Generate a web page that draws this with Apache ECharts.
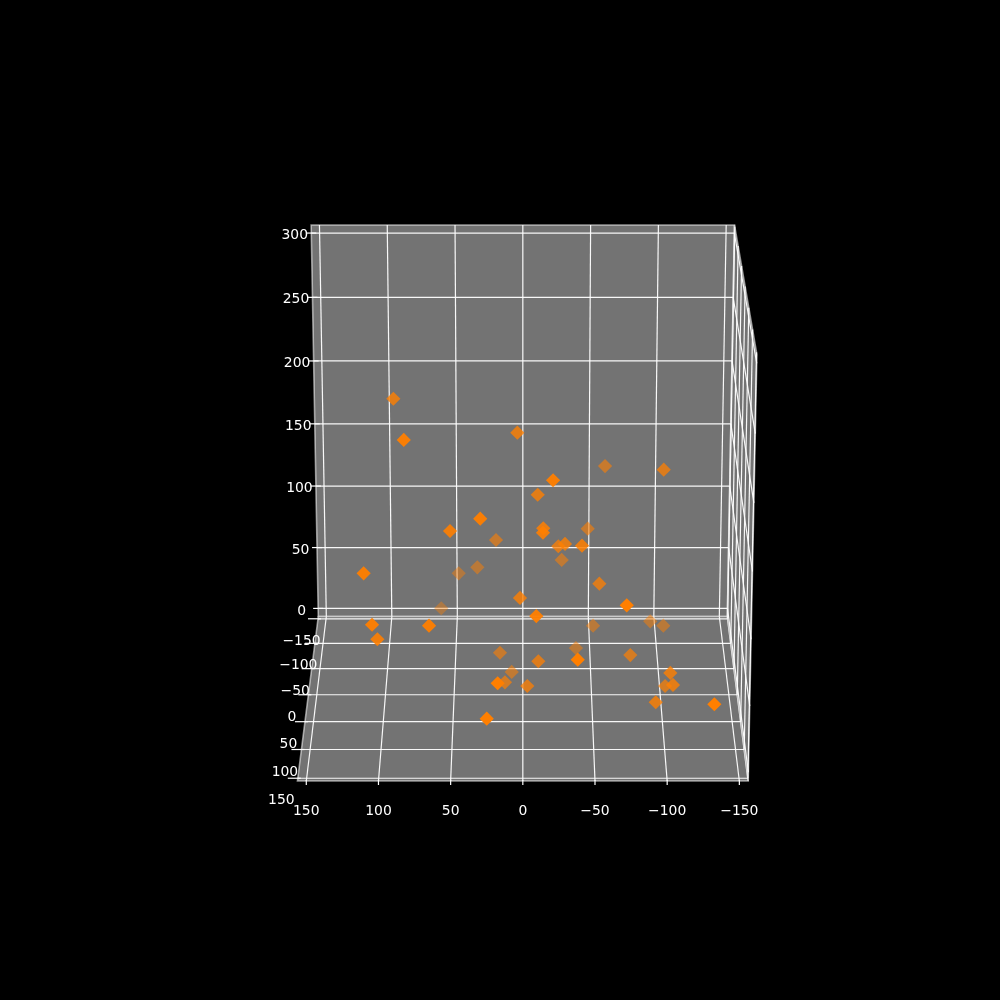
<!DOCTYPE html>
<html><head><meta charset="utf-8"><style>html,body{margin:0;background:#000}#c{width:1000px;height:1000px}</style>
<script src="https://cdn.jsdelivr.net/npm/echarts@6/dist/echarts.min.js"></script></head>
<body><div id="c"></div>
<script>
// Scatter values
const xs=[89.7,80.8,3.8,29.1,50.2,19.4,109.3,33.5,47.6,-59.1,-99.0,-20.6,-10.4,-14.2,-13.9,-46.9,-29.6,-25.1,-41.2,-28.4,-54.3,61.2,2.0,104.0,64.7,101.3,16.7,8.2,17.3,12.9,-3.2,24.9,-9.3,-71.0,-52.0,-94.3,-104.0,-39.4,-11.1,-37.7,-77.4,-104.7,-102.7,-106.7,-94.6,-132.0];
const ys=[64,129,64,129,107,-21,129,-64,-86,-21,43,129,64,86,107,-21,64,43,86,-43,43,-107,64,129,129,107,-21,-43,150,21,43,150,129,150,-64,-64,-64,-64,43,150,21,64,21,64,64,150];
const zs=[244.1,236.4,219.0,179.0,161.7,106.7,138.7,68.8,55.5,163.9,184.0,207.1,172.8,155.8,160.4,115.5,135.8,126.1,142.8,82.7,97.5,19.1,94.8,100.4,99.7,80.6,18.0,-6.4,65.2,12.0,18.3,38.5,106.9,123.2,22.2,25.7,22.2,4.2,37.6,82.8,33.4,37.2,9.1,27.9,14.5,49.4];
// Axis ticks and limits
const xTicks=[150,100,50,0,-50,-100,-150];
const yTicks=[-150,-100,-50,0,50,100,150];
const zTicks=[0,50,100,150,200,250,300];
const xLim=156.13, yLim=154.77, zMin=-6.65, zMax=306.23;
// Camera
const cam={el:0.35654,az:Math.PI/2,f:4194.6,cx:522.82,cy:564.34,kx:0.0033129,ky:0.0033823,kz:0.0032777,zc:95.76,d:10};
function project(x,y,z){
  const a=cam.kx*x,b=cam.ky*y,c=cam.kz*(z-cam.zc),ce=Math.cos(cam.el),se=Math.sin(cam.el),ca=Math.cos(cam.az),sa=Math.sin(cam.az);
  const w=cam.d-(ce*ca*a+ce*sa*b+se*c);
  return [cam.cx+cam.f*(-sa*a+ca*b)/w, cam.cy-cam.f*(-se*ca*a-se*sa*b+ce*c)/w];
}
const fmt=v=>String(v).replace('-','\u2212');
// Panes
const panes=[
 [[xLim,-yLim,zMin],[-xLim,-yLim,zMin],[-xLim,-yLim,zMax],[xLim,-yLim,zMax]],
 [[xLim,-yLim,zMin],[-xLim,-yLim,zMin],[-xLim,yLim,zMin],[xLim,yLim,zMin]],
 [[-xLim,-yLim,zMin],[-xLim,yLim,zMin],[-xLim,yLim,zMax],[-xLim,-yLim,zMax]]
].map(p=>p.map(c=>project(...c)));
// Grid lines
const segs=[];
const seg=(a,b)=>segs.push([...project(...a),...project(...b)]);
xTicks.forEach(x=>{seg([x,-yLim,zMin],[x,yLim,zMin]);seg([x,-yLim,zMin],[x,-yLim,zMax]);});
yTicks.forEach(y=>{seg([xLim,y,zMin],[-xLim,y,zMin]);seg([-xLim,y,zMin],[-xLim,y,zMax]);});
zTicks.forEach(z=>{seg([xLim,-yLim,z],[-xLim,-yLim,z]);seg([-xLim,-yLim,z],[-xLim,yLim,z]);});
// Tick marks and labels, offset in pixels from the projected tick
const marks=[],labels=[];
xTicks.forEach(x=>{const p=project(x,yLim,zMin);marks.push([p[0],p[1]-1,p[0],p[1]+4]);labels.push([p[0],p[1]+30,fmt(x)]);});
yTicks.forEach(y=>{const p=project(xLim,y,zMin);marks.push([p[0]-10,p[1],p[0]+3,p[1]]);labels.push([p[0]-16.5,p[1]+22.5,fmt(y)]);});
zTicks.forEach(z=>{const p=project(xLim,-yLim,z);marks.push([p[0]-5,p[1],p[0]+5,p[1]]);labels.push([p[0]-16.5,p[1]+2.5,fmt(z)]);});
// Points, back to front, shaded by depth
const shade=y=>0.3+0.7*(y+150)/300;
const points=xs.map((x,i)=>({y:ys[i],p:project(x,ys[i],zs[i])})).sort((a,b)=>a.y-b.y)
  .map(o=>({value:o.p,itemStyle:{opacity:shade(o.y)}}));

const lineItem=(stroke,w)=>(params,api)=>{
  const a=api.coord([api.value(0),api.value(1)]),b=api.coord([api.value(2),api.value(3)]);
  return {type:'line',shape:{x1:a[0],y1:a[1],x2:b[0],y2:b[1]},style:{stroke,lineWidth:w,fill:null}};
};
const chart=echarts.init(document.getElementById('c'),null,{width:1000,height:1000});
chart.setOption({
  animation:false,backgroundColor:'#000',tooltip:{show:false},legend:{show:false},
  grid:{left:0,right:0,top:0,bottom:0},
  xAxis:{type:'value',min:0,max:1000,show:false},
  yAxis:{type:'value',min:0,max:1000,inverse:true,show:false},
  series:[
   {type:'custom',silent:true,z:1,coordinateSystem:'cartesian2d',data:panes.map((p,i)=>[i]),encode:{x:[],y:[]},
    renderItem:(params,api)=>({type:'polygon',shape:{points:panes[api.value(0)].map(c=>api.coord(c))},
      style:{fill:'#737373',stroke:'rgba(255,255,255,0.55)',lineWidth:1.6}})},
   {type:'custom',silent:true,z:2,data:segs,encode:{x:[0,2],y:[1,3]},renderItem:lineItem('rgba(255,255,255,0.95)',1.2)},
   {type:'custom',silent:true,z:3,data:marks,encode:{x:[0,2],y:[1,3]},renderItem:lineItem('#fff',1.2)},
   {type:'scatter',silent:true,z:4,symbol:'diamond',symbolSize:14.2,itemStyle:{color:'#ff7f00'},data:points},
   {type:'custom',silent:true,z:5,data:labels,encode:{x:0,y:1},
    renderItem:(params,api)=>{const c=api.coord([api.value(0),api.value(1)]);
      return {type:'text',style:{x:c[0],y:c[1],text:labels[params.dataIndex][2],fill:'#fff',align:'center',verticalAlign:'middle',font:"13.9px 'DejaVu Sans'"}};}}
  ]
});
</script></body></html>
